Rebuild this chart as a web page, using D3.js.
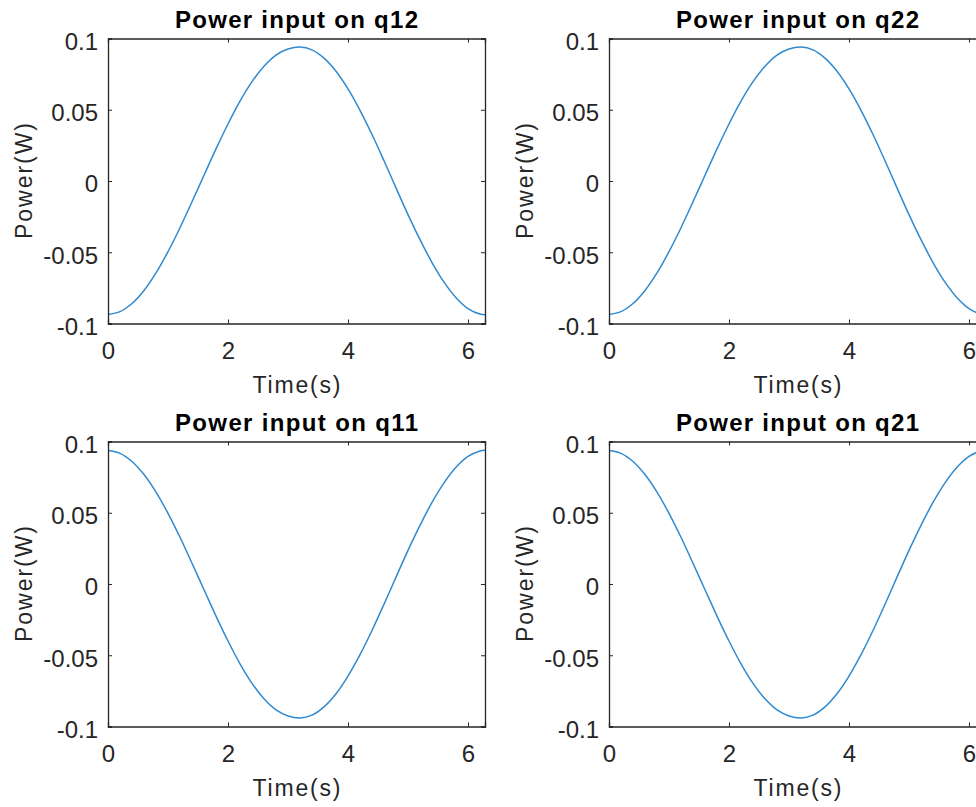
<!DOCTYPE html>
<html>
<head>
<meta charset="utf-8">
<script src="https://cdn.jsdelivr.net/npm/d3@7"></script>
<style>
  html, body { margin: 0; padding: 0; background: #fff; }
  svg { display: block; font-family: "Liberation Sans", Arial, Helvetica, sans-serif; }
</style>
</head>
<body>
<svg id="chart" width="976" height="807"></svg>
<script>
// ---- data ----
const time = [0, 0.2, 0.4, 0.6, 0.8, 1.0, 1.2, 1.4, 1.6, 1.8, 2.0, 2.2, 2.4, 2.6, 2.8, 3.0,
  3.2, 3.4, 3.6, 3.8, 4.0, 4.2, 4.4, 4.6, 4.8, 5.0, 5.2, 5.4, 5.6, 5.8, 6.0, 6.2, 6.2832];
const powerQ12 = [-0.0937, -0.0917, -0.0860, -0.0768, -0.0645, -0.0496, -0.0328, -0.0146, 0.0040, 0.0225,
  0.0400, 0.0560, 0.0697, 0.0806, 0.0884, 0.0926, 0.0940, 0.0920, 0.0862, 0.0770,
  0.0646, 0.0496, 0.0326, 0.0142, -0.0048, -0.0236, -0.0412, -0.0572, -0.0710, -0.0819, -0.0895, -0.0934, -0.0938];
const powerQ22 = [-0.0937, -0.0917, -0.0860, -0.0768, -0.0645, -0.0496, -0.0328, -0.0146, 0.0040, 0.0225,
  0.0400, 0.0560, 0.0697, 0.0806, 0.0884, 0.0926, 0.0940, 0.0920, 0.0862, 0.0770,
  0.0646, 0.0496, 0.0326, 0.0142, -0.0048, -0.0236, -0.0412, -0.0572, -0.0710, -0.0819, -0.0895, -0.0934, -0.0938];
const powerQ11 = [0.0937, 0.0917, 0.0860, 0.0768, 0.0645, 0.0496, 0.0328, 0.0146, -0.0040, -0.0225,
  -0.0400, -0.0560, -0.0697, -0.0806, -0.0884, -0.0926, -0.0940, -0.0920, -0.0862, -0.0770,
  -0.0646, -0.0496, -0.0326, -0.0142, 0.0048, 0.0236, 0.0412, 0.0572, 0.0710, 0.0819, 0.0895, 0.0934, 0.0938];
const powerQ21 = [0.0937, 0.0917, 0.0860, 0.0768, 0.0645, 0.0496, 0.0328, 0.0146, -0.0040, -0.0225,
  -0.0400, -0.0560, -0.0697, -0.0806, -0.0884, -0.0926, -0.0940, -0.0920, -0.0862, -0.0770,
  -0.0646, -0.0496, -0.0326, -0.0142, 0.0048, 0.0236, 0.0412, 0.0572, 0.0710, 0.0819, 0.0895, 0.0934, 0.0938];
const titles = ["Power input on q12", "Power input on q22", "Power input on q11", "Power input on q21"];
const xTicks = [0, 2, 4, 6];
const yTicks = [-0.1, -0.05, 0, 0.05, 0.1];
const yTickLabels = ["-0.1", "-0.05", "0", "0.05", "0.1"];
const xDomain = [0, 6.2832];
const yDomain = [-0.1, 0.1];
const xLabel = "Time(s)";
const yLabel = "Power(W)";

// ---- layout ----
const svg = d3.select("#chart");
const colX = [108, 609];
const rowY = [38.5, 441.5];
const plotW = 377, plotH = 285;
const axisColor = "#262626";
const lineColor = "#2f8ad0";

const panels = [
  {title: titles[0], values: powerQ12, col: 0, row: 0},
  {title: titles[1], values: powerQ22, col: 1, row: 0},
  {title: titles[2], values: powerQ11, col: 0, row: 1},
  {title: titles[3], values: powerQ21, col: 1, row: 1}
];

panels.forEach(p => {
  const left = colX[p.col], top = rowY[p.row];
  const x = d3.scaleLinear().domain(xDomain).range([left, left + plotW]);
  const y = d3.scaleLinear().domain(yDomain).range([top + plotH, top]);
  const g = svg.append("g");

  // curve
  const pts = time.map((t, i) => [t, p.values[i]]);
  g.append("path")
    .datum(pts)
    .attr("fill", "none")
    .attr("stroke", lineColor)
    .attr("stroke-width", 1.5)
    .attr("d", d3.line().curve(d3.curveCatmullRom.alpha(0.5)).x(d => x(d[0])).y(d => y(d[1])));

  const tickLen = 4;
  const xAxis = d3.axisBottom(x).tickValues(xTicks).tickSize(-tickLen).tickPadding(10)
    .tickFormat(d3.format("d"));
  const gx = g.append("g").attr("transform", `translate(0,${top + plotH})`).call(xAxis);
  const gxt = g.append("g").attr("transform", `translate(0,${top})`)
    .call(d3.axisTop(x).tickValues(xTicks).tickSize(-tickLen).tickFormat(""));
  const yAxis = d3.axisLeft(y).tickValues(yTicks).tickSize(-tickLen).tickPadding(10)
    .tickFormat((d, i) => yTickLabels[i]);
  const gy = g.append("g").attr("transform", `translate(${left},0)`).call(yAxis);
  const gyr = g.append("g").attr("transform", `translate(${left + plotW},0)`)
    .call(d3.axisRight(y).tickValues(yTicks).tickSize(-tickLen).tickFormat(""));

  [gx, gxt, gy, gyr].forEach(a => {
    a.select(".domain").attr("stroke", axisColor).attr("stroke-width", 1.3);
    a.selectAll(".tick line").attr("stroke", axisColor).attr("stroke-width", 1);
    a.selectAll("text").attr("fill", axisColor).style("font-size", "24px")
      .style("font-family", '"Liberation Sans", Arial, sans-serif');
  });
  gy.selectAll(".tick text").attr("dy", "0.45em");
  gx.selectAll(".tick text").attr("dy", "1.07em");

  // title
  g.append("text")
    .attr("x", left + plotW / 2)
    .attr("y", top - 11)
    .attr("text-anchor", "middle")
    .attr("fill", "#000")
    .style("font-size", "24px")
    .style("font-weight", "bold")
    .attr("textLength", 243)
    .attr("lengthAdjust", "spacing")
    .text(p.title);

  // x label
  g.append("text")
    .attr("x", left + plotW / 2)
    .attr("y", top + plotH + 69)
    .attr("text-anchor", "middle")
    .attr("fill", axisColor)
    .style("font-size", "23px")
    .attr("textLength", 88)
    .attr("lengthAdjust", "spacing")
    .text(xLabel);

  // y label
  g.append("text")
    .attr("transform", `translate(${left - 76},${top + plotH / 2}) rotate(-90)`)
    .attr("text-anchor", "middle")
    .attr("fill", axisColor)
    .style("font-size", "23px")
    .attr("textLength", 116)
    .attr("lengthAdjust", "spacing")
    .text(yLabel);
});
</script>
</body>
</html>
